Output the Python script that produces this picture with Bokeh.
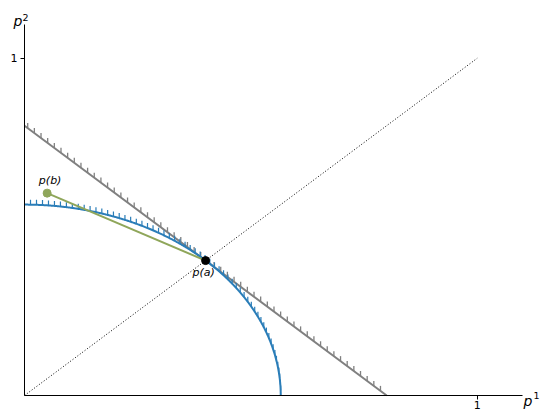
import numpy as np
from bokeh.plotting import figure
from bokeh.models import Range1d, FixedTicker, Label
from bokeh.embed import file_html
from bokeh.resources import INLINE

# ---- data ----
budget_x = [0.0, 0.8]          # budget line p1 + p2 = 0.8
budget_y = [0.8, 0.0]
circle_center = (0.0, 0.0)
circle_radius = 0.566
diag_x = [0.0, 1.0]
diag_y = [0.0, 1.0]
point_a = (0.4, 0.4)
point_b = (0.05, 0.6)
x_ticks = [1]
y_ticks = [1]
axis_max = 1.1
x_label = ("p", "1")
y_label = ("p", "2")
label_a = "p(a)"
label_b = "p(b)"

# ---- layout ----
W, H = 540, 418
AX_L, AX_R, AX_T, AX_B = 24, 522, 24, 395      # axes box in page pixels
kx = (AX_R - AX_L) / axis_max
ky = (AX_B - AX_T) / axis_max
x_range = Range1d(-AX_L / kx, (W - AX_L) / kx)
y_range = Range1d(-(H - AX_B) / ky, AX_B / ky)

GRAY = "#808080"
BLUE = "#2a7db8"
GREEN = "#8fa65a"
FONT = "DejaVu Sans"

p = figure(width=W, height=H, x_range=x_range, y_range=y_range,
           output_backend="svg", toolbar_location=None,
           min_border_left=0, min_border_right=0, min_border_top=0, min_border_bottom=0)
p.outline_line_color = None
p.grid.visible = False
p.background_fill_color = "white"
p.border_fill_color = "white"

for ax, ticks in ((p.xaxis, x_ticks), (p.yaxis, y_ticks)):
    ax.ticker = FixedTicker(ticks=ticks)
    ax.fixed_location = 0
    ax.bounds = (0, axis_max)
    ax.minor_tick_line_color = None
    ax.major_tick_in = 0
    ax.major_tick_out = 4
    ax.major_label_text_font = FONT
    ax.major_label_text_font_size = "11px"
    ax.major_label_text_color = "black"
    ax.axis_line_color = "black"
    ax.major_tick_line_color = "black"
p.xaxis.major_label_standoff = 1
p.yaxis.major_label_standoff = 3

# hatch ticks along a pixel-space path
def hatch(xs, ys, spacing, start, length):
    px = np.asarray(xs) * kx
    py = np.asarray(ys) * ky
    seg = np.hypot(np.diff(px), np.diff(py))
    cum = np.concatenate([[0], np.cumsum(seg)])
    s = np.arange(start, cum[-1], spacing)
    hx = np.interp(s, cum, px) / kx
    hy = np.interp(s, cum, py) / ky
    return hx, hy, hx, hy + length / ky

# budget line with ticks
gx0, gy0, gx1, gy1 = hatch(np.linspace(budget_x[0], budget_x[1], 200),
                           np.linspace(budget_y[0], budget_y[1], 200), 8.3, 4, 5)
p.segment(gx0, gy0, gx1, gy1, line_color=GRAY, line_width=1.3)
p.line(budget_x, budget_y, line_color=GRAY, line_width=2)

# indifference circle (quarter arc) with ticks
th = np.linspace(np.pi / 2, 0, 600)
cx = circle_center[0] + circle_radius * np.cos(th)
cy = circle_center[1] + circle_radius * np.sin(th)
bx0, by0, bx1, by1 = hatch(cx, cy, 6.0, 6, 5)
p.segment(bx0, by0, bx1, by1, line_color=BLUE, line_width=1.2)
p.line(cx, cy, line_color=BLUE, line_width=2)

# diagonal
p.line(diag_x, diag_y, line_color="black", line_width=1, line_dash="1 2")

# segment b -> a
p.line([point_b[0], point_a[0]], [point_b[1], point_a[1]], line_color=GREEN, line_width=2)
p.scatter([point_b[0]], [point_b[1]], size=8, color=GREEN)
p.scatter([point_a[0]], [point_a[1]], size=8, color="black")

def lab(x, y, text, dx, dy, size, style="italic", align="left", baseline="alphabetic"):
    p.add_layout(Label(x=x, y=y, text=text, text_align=align, text_baseline=baseline,
                       x_offset=dx, y_offset=dy, text_font=FONT, text_font_style=style,
                       text_font_size=size, text_color="black"))

lab(point_b[0], point_b[1], label_b, 3, 6, "11px", align="center", baseline="bottom")
lab(point_a[0], point_a[1], label_a, -2, -5, "11px", align="center", baseline="top")

# axis labels p^1 (end of x axis) and p^2 (top of y axis)
lab(axis_max, 0, x_label[0], 1, -5, "14px")
lab(axis_max, 0, x_label[1], 11, 0.5, "9.5px", style="normal")
lab(0, axis_max, y_label[0], -11, 3.3, "14px")
lab(0, axis_max, y_label[1], -2, 7.3, "9.5px", style="normal")

open("out.html", "w").write(file_html(p, INLINE))
